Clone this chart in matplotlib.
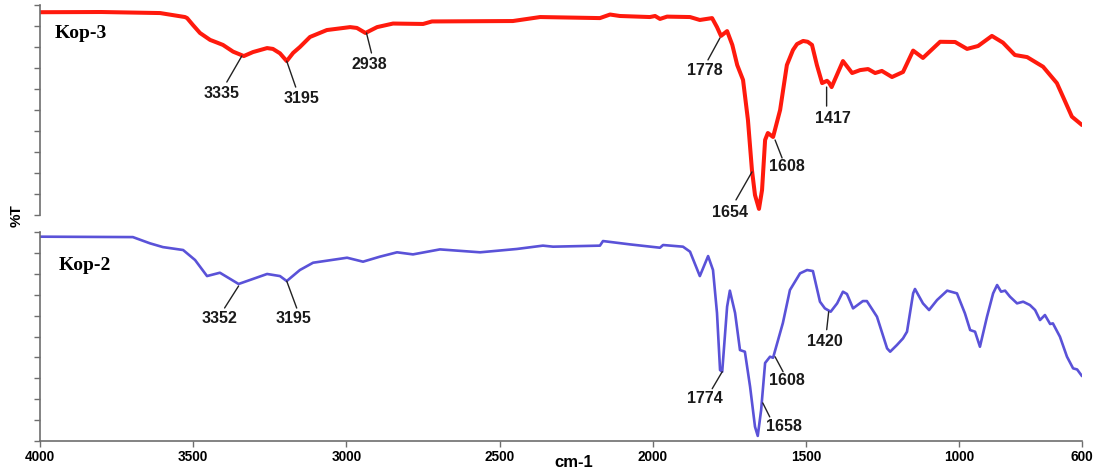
import numpy as np
import matplotlib
matplotlib.use("Agg")
import matplotlib.pyplot as plt
from matplotlib.transforms import offset_copy

# FTIR transmittance spectra (wavenumber in cm-1, %T)
kop3_wn = [4000, 3800, 3608, 3527, 3520, 3501, 3478, 3445, 3422, 3403, 3370, 3335, 3305, 3259,
           3240, 3217, 3195, 3174, 3152, 3119, 3064, 2988, 2966, 2938, 2900, 2848, 2750, 2721,
           2457, 2368, 2173, 2140, 2108, 2010, 1993, 1977, 1954, 1879, 1847, 1807, 1791, 1778,
           1758, 1741, 1725, 1706, 1690, 1677, 1667, 1654, 1644, 1634, 1625, 1608, 1585, 1563,
           1543, 1530, 1510, 1495, 1481, 1465, 1448, 1432, 1425, 1417, 1380, 1350, 1324, 1298,
           1275, 1253, 1220, 1184, 1151, 1119, 1063, 1014, 975, 939, 894, 858, 819, 779, 727,
           682, 662, 633, 600]
kop3_t = [96.7, 96.8, 96.3, 94.4, 93.9, 90.6, 86.8, 83.5, 82.2, 81.1, 77.9, 75.8, 77.7, 79.6,
          79.2, 77.1, 73.4, 77.3, 80.1, 84.9, 88.2, 89.6, 89.2, 86.8, 89.6, 91.3, 91.1, 92.3,
          92.5, 94.4, 93.9, 95.6, 94.9, 94.4, 94.9, 93.5, 94.6, 94.4, 93.0, 93.9, 89.6, 85.4,
          87.7, 81.1, 71.5, 64.4, 45.3, 21.5, 9.5, 2.9, 11.9, 35.8, 39.1, 37.2, 50.1, 71.5,
          78.7, 81.5, 83.0, 82.6, 81.1, 71.5, 62.9, 64.0, 63.0, 61.0, 73.4, 67.7, 69.1, 69.6,
          67.7, 68.7, 65.8, 68.2, 78.4, 74.9, 82.6, 82.5, 79.2, 80.6, 85.4, 82.2, 76.3, 75.3,
          70.7, 62.9, 56.4, 46.9, 42.9]

kop2_wn = [4000, 3697, 3641, 3599, 3533, 3494, 3455, 3413, 3352, 3259, 3217, 3195, 3152, 3109,
           2998, 2946, 2891, 2835, 2783, 2695, 2564, 2444, 2359, 2326, 2173, 2163, 2075, 1977,
           1967, 1902, 1879, 1847, 1820, 1804, 1791, 1781, 1774, 1758, 1749, 1732, 1716, 1700,
           1683, 1667, 1658, 1647, 1634, 1618, 1608, 1576, 1553, 1520, 1497, 1478, 1455, 1439,
           1420, 1399, 1380, 1367, 1347, 1315, 1302, 1269, 1236, 1226, 1204, 1184, 1171, 1151,
           1145, 1119, 1099, 1073, 1040, 1008, 982, 965, 949, 933, 910, 890, 877, 864, 851,
           835, 812, 792, 770, 753, 737, 721, 704, 695, 672, 649, 629, 616, 600]
kop2_t = [97.9, 97.7, 94.7, 92.9, 91.5, 86.7, 79.0, 80.6, 75.2, 80.0, 79.0, 76.6, 81.9, 85.4,
          87.8, 85.9, 88.3, 90.4, 89.4, 91.8, 90.4, 92.0, 93.6, 93.1, 93.6, 95.8, 94.2, 92.6,
          93.9, 93.1, 90.7, 79.0, 88.6, 81.9, 61.3, 33.9, 33.1, 64.3, 72.0, 61.3, 43.5, 42.7,
          25.9, 6.7, 2.3, 14.7, 37.3, 40.3, 39.8, 56.5, 72.3, 80.3, 81.9, 81.4, 66.7, 63.5,
          61.9, 65.9, 71.5, 70.4, 63.5, 67.0, 67.0, 59.5, 44.3, 42.7, 45.9, 49.1, 52.3, 70.7,
          72.8, 65.9, 62.7, 67.5, 72.0, 70.7, 61.1, 53.1, 52.3, 45.1, 59.5, 70.7, 74.7, 71.5,
          72.0, 69.1, 65.9, 66.7, 65.1, 62.7, 57.9, 60.3, 56.0, 56.3, 49.9, 40.3, 34.7, 34.2, 31.0]

# labelled bands: wavenumber, leader start, leader end, label centre (pixel offsets)
kop3_peaks = [
    (3335, (-2, 0), (-17, -26), (-22, -37)),
    (3195, (0, 0), (9, -26), (15, -37)),
    (2938, (1, 0), (6, -20), (4, -32)),
    (1778, (-1, -2), (-13, -24), (-16, -35)),
    (1654, (-7, 37), (-23, 9), (-29, -4)),
    (1608, (2, -3), (9, -21), (14, -30)),
    (1417, (-5, 0), (-5, -19), (1, -31)),
]
kop2_peaks = [
    (3352, (0, -2), (-14, -24), (-19, -35)),
    (3195, (0, 0), (10, -27), (7, -37)),
    (1774, (0, 0), (-10, -17), (-17, -27)),
    (1658, (5, 33), (12, 19), (26, 9)),
    (1608, (2, 1), (10, -14), (14, -23)),
    (1420, (-2, 0), (-4, -18), (-6, -30)),
]

xticks = [4000, 3500, 3000, 2500, 2000, 1500, 1000, 600]

W, H, DPI = 1099, 475, 100
fig = plt.figure(figsize=(W / DPI, H / DPI), dpi=DPI)
plt.rcParams['font.family'] = ['Liberation Sans', 'DejaVu Sans']

spine_col = '#6e6e6e'
left, width = 40 / W, 1042 / W
ax_top = fig.add_axes([left, 260 / H, width, 209.7 / H])
ax_bot = fig.add_axes([left, 34.3 / H, width, 208.4 / H])


def style(ax, bottom):
    ax.set_xlim(4000, 600)
    ax.set_ylim(0, 100)
    ax.set_yticks(np.arange(0, 101, 10))
    ax.set_yticklabels([])
    for s in ('top', 'right'):
        ax.spines[s].set_visible(False)
    ax.spines['left'].set_color(spine_col)
    ax.spines['left'].set_linewidth(1.2)
    ax.tick_params(axis='y', direction='out', length=4.5, width=1, color=spine_col)
    if bottom:
        ax.spines['bottom'].set_color(spine_col)
        ax.spines['bottom'].set_linewidth(1.2)
        ax.set_xticks(xticks)
        ax.set_xticklabels([str(v) for v in xticks], fontsize=9.8, fontweight='bold')
        ax.tick_params(axis='x', direction='out', length=4, width=1, color=spine_col, pad=3)
    else:
        ax.spines['bottom'].set_visible(False)
        ax.set_xticks([])


def annotate_peaks(ax, wn, t, peaks):
    wn_a = np.asarray(wn, float)[::-1]
    t_a = np.asarray(t, float)[::-1]
    for w, s, e, l in peaks:
        y = float(np.interp(w, wn_a, t_a))
        start = offset_copy(ax.transData, fig=fig, x=s[0], y=s[1], units='dots')
        ax.annotate('', xy=(w, y), xycoords=start,
                    xytext=(e[0] - s[0], e[1] - s[1]), textcoords='offset pixels',
                    arrowprops=dict(arrowstyle='-', lw=1.0, color='#222222',
                                    shrinkA=0, shrinkB=0))
        ax.annotate(str(w), xy=(w, y), xytext=l, textcoords='offset pixels',
                    ha='center', va='center', fontsize=11.5, fontweight='bold',
                    color='#1a1a1a')


style(ax_top, False)
style(ax_bot, True)

ax_top.plot(kop3_wn, kop3_t, color='#ff1a0d', lw=2.9, solid_joinstyle='round',
            solid_capstyle='round')
ax_bot.plot(kop2_wn, kop2_t, color='#5a52d8', lw=1.9, solid_joinstyle='round',
            solid_capstyle='round')

annotate_peaks(ax_top, kop3_wn, kop3_t, kop3_peaks)
annotate_peaks(ax_bot, kop2_wn, kop2_t, kop2_peaks)

ax_top.text(0.0144, 0.866, 'Kop-3', transform=ax_top.transAxes, ha='left', va='center',
            fontsize=14, fontweight='bold', family='Liberation Serif')
ax_bot.text(0.0176, 0.84, 'Kop-2', transform=ax_bot.transAxes, ha='left', va='center',
            fontsize=14, fontweight='bold', family='Liberation Serif')

fig.text(16.5 / W, 1 - 216 / H, '%T', rotation=90, ha='center', va='center',
         fontsize=11, fontweight='bold')
fig.text(574 / W, 1 - 462.7 / H, 'cm-1', ha='center', va='center',
         fontsize=12, fontweight='bold')

fig.savefig('out.png', dpi=DPI)
